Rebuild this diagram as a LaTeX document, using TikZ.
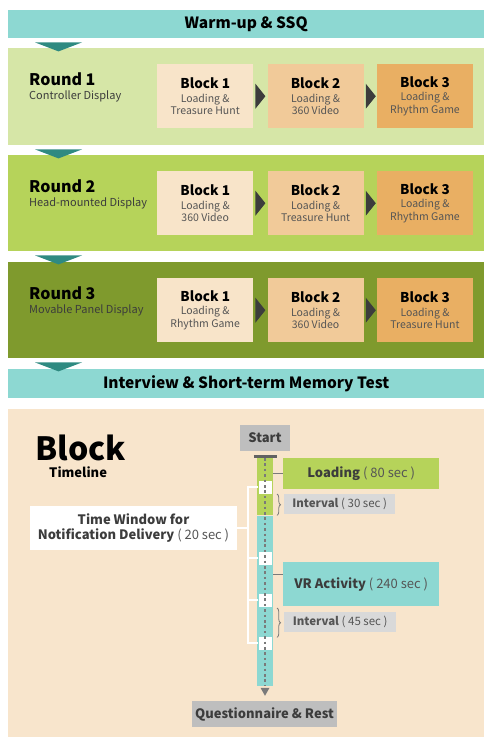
\documentclass[tikz,border=0pt]{standalone}
\usepackage{fontspec}
\setmainfont{Noto Sans CJK KR}
\usepackage{tikz}
\usetikzlibrary{positioning,calc,decorations.pathreplacing}
\definecolor{aqua}{HTML}{8DD8D2}
\definecolor{deepteal}{HTML}{2F8A81}
\definecolor{sage}{HTML}{D6E6A7}
\definecolor{lime}{HTML}{B6D35A}
\definecolor{moss}{HTML}{7F9A2D}
\definecolor{peachA}{HTML}{F8E4C9}
\definecolor{peachB}{HTML}{F1CA99}
\definecolor{peachC}{HTML}{E9AF63}
\definecolor{sand}{HTML}{F8E5CC}
\definecolor{stone}{HTML}{BEBEBE}
\definecolor{mist}{HTML}{D9D9D9}
\definecolor{ink}{HTML}{3C3C3C}
\definecolor{subgray}{HTML}{555555}
\definecolor{dotgray}{HTML}{7A7A7A}
\newcommand{\fsz}[2]{\fontsize{#1}{#2}\selectfont}
\newcommand{\blocktxt}[3]{{\fsz{13.5}{14}\bfseries Block #1}\\[1pt]\textcolor{subgray}{#2}\\\textcolor{subgray}{#3}}
\newcommand{\secs}[1]{{\mdseries\color{subgray}( #1 sec )}}
\tikzset{
  band/.style={rectangle, fill=#1, inner sep=0pt, minimum width=476pt,
               anchor=north west},
  blk/.style={rectangle, fill=#1, inner sep=0pt, minimum width=96pt,
              minimum height=64pt, align=center, font=\fsz{10.5}{12.5}},
  rnd/.style={inner sep=0pt, font=\fsz{16}{18}\bfseries},
  rndsub/.style={inner sep=0pt, text=ink, font=\fsz{11}{13}},
  nxt/.style={fill=ink},
  seg/.style={rectangle, fill=#1, inner sep=0pt, minimum width=16pt},
  win/.style={rectangle, fill=white, inner sep=0pt, minimum size=13pt},
  tag/.style={rectangle, fill=#1, inner sep=0pt, text=ink, align=center,
              font=\fsz{13}{16}\bfseries},
  gap/.style={rectangle, fill=mist, inner sep=0pt, text=subgray,
              minimum width=111pt, minimum height=20pt,
              font=\fsz{11.5}{14}\bfseries},
  lnk/.style={draw=dotgray, line width=0.8pt},
  brc/.style={draw=dotgray, line width=0.8pt,
              decorate, decoration={brace, amplitude=3.5pt}},
  wline/.style={draw=white, line width=2pt},
  dots/.style={draw=dotgray, line width=2.6pt, dash pattern=on 2.6pt off 2.8pt},
}

\begin{document}
\begin{tikzpicture}[x=1pt, y=-1pt]
  \useasboundingbox (0,0) rectangle (484,737);

  % sessions
  \node[band=aqua, minimum height=28pt] (warm) at (8,10)
       {\fsz{15.5}{18}\bfseries Warm-up \& SSQ};
  \node[band=sage, minimum height=97pt] (rd1) at (8,48) {};
  \node[band=lime, minimum height=96pt] (rd2) at (8,155) {};
  \node[band=moss, minimum height=96pt] (rd3) at (8,262) {};
  \node[band=aqua, minimum height=29pt] (intv) at (8,369)
       {\fsz{15.5}{18}\bfseries Interview \& Short-term Memory Test};

  \node[rnd, anchor=base west] (rd1t) at ($(rd1.north west)+(21,37)$) {Round 1};
  \node[rndsub, anchor=base west] (rd1s) at ($(rd1.north west)+(21,51)$) {Controller Display};
  \node[rnd, anchor=base west] (rd2t) at ($(rd2.north west)+(21,37)$) {Round 2};
  \node[rndsub, anchor=base west] (rd2s) at ($(rd2.north west)+(21,51)$) {Head-mounted Display};
  \node[rnd, anchor=base west] (rd3t) at ($(rd3.north west)+(21,37)$) {Round 3};
  \node[rndsub, anchor=base west] (rd3s) at ($(rd3.north west)+(21,51)$) {Movable Panel Display};

  \node[blk=peachA, anchor=north west] (b11) at ($(rd1.north west)+(149,16)$)
       {\blocktxt{1}{Loading \&}{Treasure Hunt}};
  \node[blk=peachB, right=14pt of b11] (b12) {\blocktxt{2}{Loading \&}{360 Video}};
  \node[blk=peachC, right=13pt of b12] (b13) {\blocktxt{3}{Loading \&}{Rhythm Game}};

  \node[blk=peachA, anchor=north west] (b21) at ($(rd2.north west)+(149,16)$)
       {\blocktxt{1}{Loading \&}{360 Video}};
  \node[blk=peachB, right=14pt of b21] (b22) {\blocktxt{2}{Loading \&}{Treasure Hunt}};
  \node[blk=peachC, right=13pt of b22] (b23) {\blocktxt{3}{Loading \&}{Rhythm Game}};

  \node[blk=peachA, anchor=north west] (b31) at ($(rd3.north west)+(149,16)$)
       {\blocktxt{1}{Loading \&}{Rhythm Game}};
  \node[blk=peachB, right=14pt of b31] (b32) {\blocktxt{2}{Loading \&}{360 Video}};
  \node[blk=peachC, right=13pt of b32] (b33) {\blocktxt{3}{Loading \&}{Treasure Hunt}};

  \foreach \a in {b11,b12,b21,b22,b31,b32}
    \fill[nxt] ($(\a.east)+(2,-12.5)$) -- ++(0,25) -- ++(10,-12.5) -- cycle;
  \foreach \p in {warm,rd1,rd2,rd3}
    \fill[deepteal] ($(\p.south west)+(27,4)$) -- ++(47,0) -- ++(-23.5,9) -- cycle;

  % block timeline
  \node[band=sand, minimum height=328pt] (tl) at (8,409) {};
  \node[inner sep=0pt, anchor=base west, font=\fsz{32}{36}\bfseries] (blkt) at (35,460) {Block};
  \node[inner sep=0pt, anchor=base west, font=\fsz{13}{15}\bfseries] (blks) at (49,477) {Timeline};

  \node[tag=stone, minimum width=50pt, minimum height=26pt] (start) at (265,438) {Start};
  \node[seg=lime, anchor=north, minimum height=57pt] (segA) at (265,458) {};
  \node[seg=aqua, below=0pt of segA, minimum height=170pt] (segB) {};
  \draw[draw=dotgray!80!black, line width=3pt]
       ($(segA.north west)+(-3,-1.5)$) -- ($(segA.north east)+(4,-1.5)$);
  \fill[dotgray] ($(segB.south)+(-4.5,2)$) -- ++(9,0) -- ++(-4.5,8) -- cycle;
  \node[tag=stone, minimum width=145pt, minimum height=26pt] (quest) at (264.5,714)
       {Questionnaire \& Rest};

  \node[win] (w1) at (265,487) {};
  \node[win] (w2) at (265,558) {};
  \node[win] (w3) at (265,600) {};
  \node[win] (w4) at (265,643) {};
  \draw[dots] (segA.north) -- (segB.south);

  \node[tag=lime, anchor=north west, minimum width=156pt, minimum height=31pt]
       (load) at (283,458) {Loading \secs{80}};
  \node[gap, anchor=north west] (int1) at (284,494) {Interval \secs{30}};
  \node[tag=aqua, anchor=north west, minimum width=156pt, minimum height=44pt]
       (vr) at (283,562) {VR Activity \secs{240}};
  \node[gap, anchor=north west, minimum width=112pt] (int2) at (284,612) {Interval \secs{45}};

  \coordinate (vrin) at ($(vr.north west)+(0,12)$);
  \draw[lnk] (segA.east |- load.west) -- (load.west);
  \draw[lnk] (segB.east |- vrin) -- (vrin);
  \draw[brc] ($(int1.north west)+(-7,0)$) -- ($(int1.south west)+(-7,1)$);
  \draw[brc] ($(int2.north west)+(-7,-4)$) -- ($(int2.south west)+(-7,5)$);

  \node[tag=white, minimum width=207pt, minimum height=44pt,
        font=\fsz{13}{15.5}\bfseries] (tw) at (133.5,528)
       {Time Window for\\Notification Delivery \secs{20}};
  \coordinate (spine) at ($(w1.west)+(-10.5,0)$);
  \draw[wline] (w1.west) -- (spine) |- (w4.west);
  \draw[wline] (w2.west) -- (w2.west -| spine);
  \draw[wline] (w3.west) -- (w3.west -| spine);
  \draw[wline] (tw.east) -- (tw.east -| spine);
\end{tikzpicture}
\end{document}
